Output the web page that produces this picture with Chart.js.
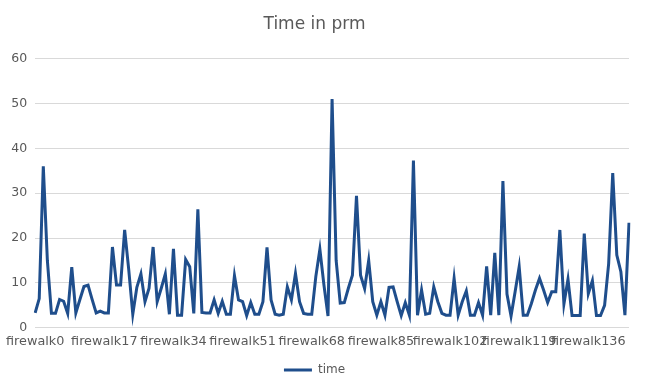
<!DOCTYPE html>
<html>
<head>
<meta charset="utf-8">
<script src="https://cdn.jsdelivr.net/npm/chart.js@4/dist/chart.umd.min.js"></script>
<style>
    html, body { margin: 0; padding: 0; background: #fff; }
</style>
</head>
<body>
<canvas id="chart" width="670" height="374"></canvas>
<script>
const categories = Array.from({length: 147}, (_, i) => 'firewalk' + i);
const labelEvery = 17;
const yTicks = [0, 10, 20, 30, 40, 50, 60];
const timeValues = [
    3.3, 6.5, 36, 15, 3.2, 3.2, 6.3, 5.9, 3.2, 13.5,
    3.3, 6.3, 9.2, 9.5, 6.3, 3.3, 3.7, 3.3, 3.3, 18,
    9.5, 9.5, 21.8, 13, 3, 9, 12, 5.8, 8.8, 18,
    5.8, 8.8, 12, 3, 17.6, 2.8, 2.8, 15.2, 13.6, 3.2,
    26.4, 3.4, 3.3, 3.3, 6.2, 3.2, 5.9, 3, 3, 11.6,
    6.2, 5.8, 2.7, 5.6, 3, 3, 5.8, 17.9, 6.2, 3,
    2.8, 3, 9.1, 6.2, 12.1, 5.8, 3.2, 3, 3, 11.4,
    17.5, 9.5, 2.6, 51, 15, 5.5, 5.6, 8.8, 11.7, 29.4,
    11.7, 8.7, 15, 5.8, 2.8, 5.8, 2.8, 9, 9.1, 5.8,
    2.7, 5.6, 2.8, 37.3, 2.8, 8.4, 3, 3.2, 9.1, 5.8,
    3.2, 2.8, 2.8, 11, 2.8, 5.8, 8.2, 2.8, 2.8, 5.6,
    2.8, 13.7, 2.8, 16.7, 2.8, 32.7, 7.5, 2.6, 8, 13.6,
    2.8, 2.8, 5.4, 8.4, 11, 8.4, 5.6, 8, 8, 21.8,
    5.3, 10.8, 2.7, 2.7, 2.7, 21, 7.6, 10.5, 2.7, 2.7,
    5, 14.3, 34.5, 16.2, 12.5, 2.8, 23.4
];

const lineColor = '#1f4e8c';
const textColor = '#595959';
const gridColor = '#d9d9d9';
const fontFamily = '"DejaVu Sans", sans-serif';

new Chart(document.getElementById('chart'), {
    type: 'line',
    data: {
        labels: categories,
        datasets: [{
            label: 'time',
            data: timeValues,
            borderColor: lineColor,
            backgroundColor: lineColor,
            borderWidth: 3,
            pointRadius: 0,
            tension: 0
        }]
    },
    options: {
        responsive: false,
        animation: false,
        layout: { padding: { left: 0, right: 41, top: 0, bottom: -12 } },
        scales: {
            x: {
                offset: false,
                afterFit: function(scale) { scale.height = 34.3; },
                grid: { display: false, drawTicks: false },
                border: { display: false },
                ticks: {
                    autoSkip: false,
                    maxRotation: 0,
                    padding: 6,
                    color: textColor,
                    font: { family: fontFamily, size: 12.8 },
                    callback: function(value, index) {
                        return index % labelEvery === 0 ? categories[index] : '';
                    }
                }
            },
            y: {
                min: yTicks[0],
                max: yTicks[yTicks.length - 1],
                afterFit: function(scale) { scale.width = 32.5; },
                afterBuildTicks: function(scale) {
                    scale.ticks = yTicks.map(v => ({value: v}));
                },
                grid: { color: gridColor, lineWidth: 1, drawTicks: false },
                border: { display: false },
                ticks: {
                    padding: 8,
                    color: textColor,
                    font: { family: fontFamily, size: 12.5 }
                }
            }
        },
        plugins: {
            title: {
                display: true,
                text: 'Time in prm',
                color: textColor,
                font: { family: fontFamily, size: 17, weight: 'normal' },
                padding: { top: 14, bottom: 24.3 }
            },
            legend: {
                position: 'bottom',
                labels: {
                    usePointStyle: true,
                    pointStyle: 'line',
                    pointStyleWidth: 28,
                    padding: 2,
                    color: textColor,
                    font: { family: fontFamily, size: 12 }
                }
            },
            tooltip: { enabled: false }
        }
    }
});
</script>
</body>
</html>
